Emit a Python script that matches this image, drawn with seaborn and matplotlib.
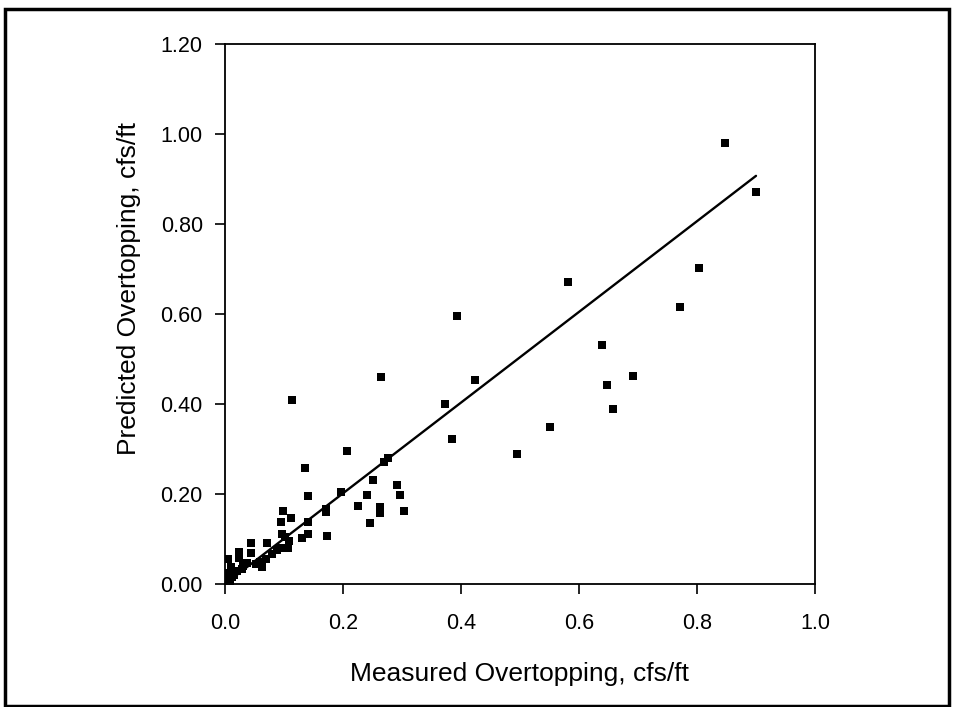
import matplotlib
matplotlib.use("Agg")
import matplotlib.pyplot as plt
from matplotlib.patches import Rectangle
import seaborn as sns
import pandas as pd

# -------------------------------
# Data
# -------------------------------
measured = [0.848, 0.900, 0.803, 0.772, 0.582, 0.639, 0.647, 0.691, 0.657, 0.551,
            0.495, 0.393, 0.424, 0.373, 0.385, 0.264, 0.113, 0.207, 0.270, 0.276,
            0.136, 0.251, 0.292, 0.197, 0.241, 0.296, 0.140, 0.226, 0.263, 0.263,
            0.304, 0.171, 0.171, 0.246, 0.173, 0.099, 0.112, 0.095, 0.141, 0.140,
            0.130, 0.097, 0.108, 0.107, 0.093, 0.101, 0.044, 0.072, 0.079, 0.044,
            0.060, 0.062, 0.038, 0.024, 0.024, 0.005, 0.010, 0.021, 0.029, 0.005,
            0.015, 0.002, 0.008, 0.034, 0.069, 0.088, 0.052, 0.000, 0.012, 0.030]
predicted = [0.979, 0.871, 0.703, 0.615, 0.672, 0.531, 0.443, 0.462, 0.390, 0.350,
             0.290, 0.596, 0.454, 0.401, 0.323, 0.461, 0.408, 0.296, 0.271, 0.280,
             0.258, 0.232, 0.219, 0.205, 0.198, 0.198, 0.195, 0.173, 0.171, 0.157,
             0.163, 0.167, 0.160, 0.135, 0.107, 0.163, 0.147, 0.138, 0.138, 0.112,
             0.103, 0.112, 0.095, 0.081, 0.080, 0.105, 0.092, 0.092, 0.067, 0.070,
             0.050, 0.038, 0.047, 0.072, 0.058, 0.055, 0.037, 0.030, 0.033, 0.025,
             0.020, 0.010, 0.005, 0.047, 0.055, 0.075, 0.045, 0.003, 0.015, 0.040]

# trend line end points
fit_x = [0.0, 0.90]
fit_y = [0.0, 0.907]

x_ticks = [0.0, 0.2, 0.4, 0.6, 0.8, 1.0]
y_ticks = [0.0, 0.2, 0.4, 0.6, 0.8, 1.0, 1.2]

df = pd.DataFrame({"measured": measured, "predicted": predicted})
fit_df = pd.DataFrame({"x": fit_x, "y": fit_y})

# -------------------------------
# Plot
# -------------------------------
sns.set_theme(style="ticks")
plt.rcParams["font.family"] = ["Liberation Sans", "DejaVu Sans"]

fig = plt.figure(figsize=(9.54, 7.07), dpi=100)
ax = fig.add_axes([225 / 954, 1 - 584 / 707, 590 / 954, 540 / 707])

sns.scatterplot(data=df, x="measured", y="predicted", marker="s", s=28,
                color="black", edgecolor="black", linewidth=0, ax=ax, zorder=3)
sns.lineplot(data=fit_df, x="x", y="y", color="black", linewidth=1.7, ax=ax)

ax.set_xlim(0, 1.0)
ax.set_ylim(0, 1.2)
ax.set_xticks(x_ticks)
ax.set_yticks(y_ticks)
ax.set_xticklabels([f"{v:.1f}" for v in x_ticks])
ax.set_yticklabels([f"{v:.2f}" for v in y_ticks])
ax.tick_params(axis="both", direction="out", length=7, width=1.2,
               labelsize=15.5, colors="black")
ax.tick_params(axis="x", pad=14)
ax.tick_params(axis="y", pad=9)

for side in ["left", "bottom", "top", "right"]:
    ax.spines[side].set_visible(True)
    ax.spines[side].set_color("black")
    ax.spines[side].set_linewidth(1.3)

ax.set_xlabel("Measured Overtopping, cfs/ft", fontsize=19, color="black")
ax.set_ylabel("Predicted Overtopping, cfs/ft", fontsize=19, color="black")
ax.xaxis.set_label_coords(0.5, -0.145)
ax.xaxis.label.set_va("top")
ax.yaxis.set_label_coords(-0.142, 0.548)

# outer frame of the scanned figure
fig.patches.append(Rectangle((5 / 954, 1 / 707), 944 / 954, 697 / 707,
                             transform=fig.transFigure, fill=False,
                             edgecolor="black", linewidth=2.5))

fig.savefig("out.png", dpi=100, facecolor="white")
